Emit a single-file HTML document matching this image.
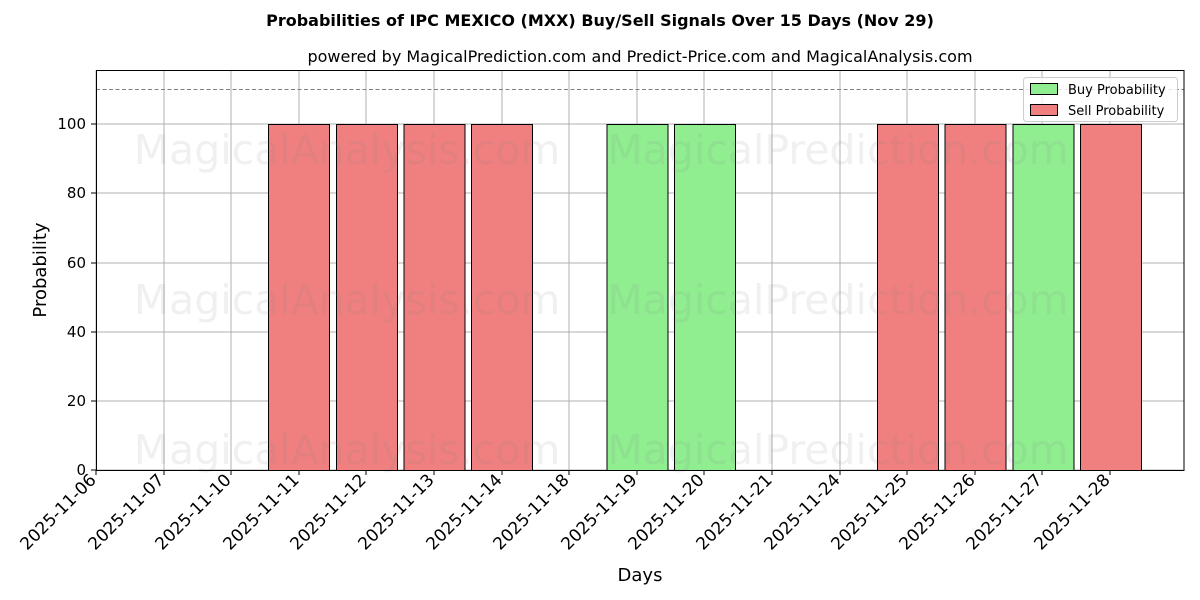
<!DOCTYPE html>
<html><head><meta charset="utf-8"><style>body{margin:0;background:#fff}svg{display:block;font-family:"DejaVu Sans","Liberation Sans",sans-serif}</style></head>
<body>
<svg width="1200" height="600" viewBox="0 0 1200 600" xmlns="http://www.w3.org/2000/svg">
<rect width="1200" height="600" fill="#fff"/>
<text x="600" y="26" text-anchor="middle" font-size="16" font-weight="bold">Probabilities of IPC MEXICO (MXX) Buy/Sell Signals Over 15 Days (Nov 29)</text>
<text x="640" y="62" text-anchor="middle" font-size="16">powered by MagicalPrediction.com and Predict-Price.com and MagicalAnalysis.com</text>
<g stroke="#b0b0b0" stroke-width="1">
<line x1="96" y1="470" x2="1184" y2="470"/><line x1="96" y1="401" x2="1184" y2="401"/><line x1="96" y1="332" x2="1184" y2="332"/><line x1="96" y1="263" x2="1184" y2="263"/><line x1="96" y1="193" x2="1184" y2="193"/><line x1="96" y1="124" x2="1184" y2="124"/>
<line x1="96" y1="70" x2="96" y2="470"/><line x1="164" y1="70" x2="164" y2="470"/><line x1="231" y1="70" x2="231" y2="470"/><line x1="299" y1="70" x2="299" y2="470"/><line x1="366" y1="70" x2="366" y2="470"/><line x1="434" y1="70" x2="434" y2="470"/><line x1="502" y1="70" x2="502" y2="470"/><line x1="569" y1="70" x2="569" y2="470"/><line x1="637" y1="70" x2="637" y2="470"/><line x1="704" y1="70" x2="704" y2="470"/><line x1="772" y1="70" x2="772" y2="470"/><line x1="840" y1="70" x2="840" y2="470"/><line x1="907" y1="70" x2="907" y2="470"/><line x1="975" y1="70" x2="975" y2="470"/><line x1="1042" y1="70" x2="1042" y2="470"/><line x1="1110" y1="70" x2="1110" y2="470"/>
</g>
<g stroke="#000" stroke-width="1">
<rect x="268.5" y="124.5" width="61" height="346" fill="#f08080"/>
<rect x="336.5" y="124.5" width="61" height="346" fill="#f08080"/>
<rect x="404" y="124.5" width="61" height="346" fill="#f08080"/>
<rect x="471.5" y="124.5" width="61" height="346" fill="#f08080"/>
<rect x="607" y="124.5" width="61" height="346" fill="#90ee90"/>
<rect x="674.5" y="124.5" width="61" height="346" fill="#90ee90"/>
<rect x="877.5" y="124.5" width="61" height="346" fill="#f08080"/>
<rect x="945" y="124.5" width="61" height="346" fill="#f08080"/>
<rect x="1013" y="124.5" width="61" height="346" fill="#90ee90"/>
<rect x="1080.5" y="124.5" width="61" height="346" fill="#f08080"/>
</g>
<g font-size="41" fill="#808080" fill-opacity="0.12" text-anchor="middle">
<text x="347" y="164">MagicalAnalysis.com</text><text x="838" y="164">MagicalPrediction.com</text>
<text x="347" y="314">MagicalAnalysis.com</text><text x="838" y="314">MagicalPrediction.com</text>
<text x="347" y="464">MagicalAnalysis.com</text><text x="838" y="464">MagicalPrediction.com</text>
</g>
<line x1="96" y1="89.5" x2="1184" y2="89.5" stroke="#808080" stroke-dasharray="4,2.5"/>
<rect x="96.5" y="70.5" width="1087.5" height="400" fill="none" stroke="#000"/>
<g font-size="15" text-anchor="end">
<text x="86" y="475">0</text><text x="86" y="406">20</text><text x="86" y="337">40</text><text x="86" y="268">60</text><text x="86" y="198">80</text><text x="86" y="129">100</text>
</g>
<g stroke="#000"><line x1="91" y1="470" x2="96" y2="470"/><line x1="91" y1="401" x2="96" y2="401"/><line x1="91" y1="332" x2="96" y2="332"/><line x1="91" y1="263" x2="96" y2="263"/><line x1="91" y1="193" x2="96" y2="193"/><line x1="91" y1="124" x2="96" y2="124"/></g>
<text transform="translate(46,270) rotate(-90)" text-anchor="middle" font-size="18">Probability</text>
<text x="640" y="581" text-anchor="middle" font-size="18">Days</text>
<g font-size="17" text-anchor="end">
<text transform="translate(97,481) rotate(-45)">2025-11-06</text>
<text transform="translate(165,481) rotate(-45)">2025-11-07</text>
<text transform="translate(232,481) rotate(-45)">2025-11-10</text>
<text transform="translate(300,481) rotate(-45)">2025-11-11</text>
<text transform="translate(367,481) rotate(-45)">2025-11-12</text>
<text transform="translate(435,481) rotate(-45)">2025-11-13</text>
<text transform="translate(503,481) rotate(-45)">2025-11-14</text>
<text transform="translate(570,481) rotate(-45)">2025-11-18</text>
<text transform="translate(638,481) rotate(-45)">2025-11-19</text>
<text transform="translate(705,481) rotate(-45)">2025-11-20</text>
<text transform="translate(773,481) rotate(-45)">2025-11-21</text>
<text transform="translate(841,481) rotate(-45)">2025-11-24</text>
<text transform="translate(908,481) rotate(-45)">2025-11-25</text>
<text transform="translate(976,481) rotate(-45)">2025-11-26</text>
<text transform="translate(1043,481) rotate(-45)">2025-11-27</text>
<text transform="translate(1111,481) rotate(-45)">2025-11-28</text>
</g>
<g stroke="#000"><line x1="96" y1="470" x2="96" y2="475"/><line x1="164" y1="470" x2="164" y2="475"/><line x1="231" y1="470" x2="231" y2="475"/><line x1="299" y1="470" x2="299" y2="475"/><line x1="366" y1="470" x2="366" y2="475"/><line x1="434" y1="470" x2="434" y2="475"/><line x1="502" y1="470" x2="502" y2="475"/><line x1="569" y1="470" x2="569" y2="475"/><line x1="637" y1="470" x2="637" y2="475"/><line x1="704" y1="470" x2="704" y2="475"/><line x1="772" y1="470" x2="772" y2="475"/><line x1="840" y1="470" x2="840" y2="475"/><line x1="907" y1="470" x2="907" y2="475"/><line x1="975" y1="470" x2="975" y2="475"/><line x1="1042" y1="470" x2="1042" y2="475"/><line x1="1110" y1="470" x2="1110" y2="475"/></g>
<rect x="1023.5" y="77.5" width="154" height="44" rx="3" fill="#fff" fill-opacity="0.8" stroke="#ccc"/>
<rect x="1030.5" y="83.5" width="27" height="11" fill="#90ee90" stroke="#000"/>
<rect x="1030.5" y="104.5" width="27" height="11" fill="#f08080" stroke="#000"/>
<text x="1068" y="94" font-size="13">Buy Probability</text>
<text x="1068" y="115" font-size="13">Sell Probability</text>
</svg>
</body></html>
